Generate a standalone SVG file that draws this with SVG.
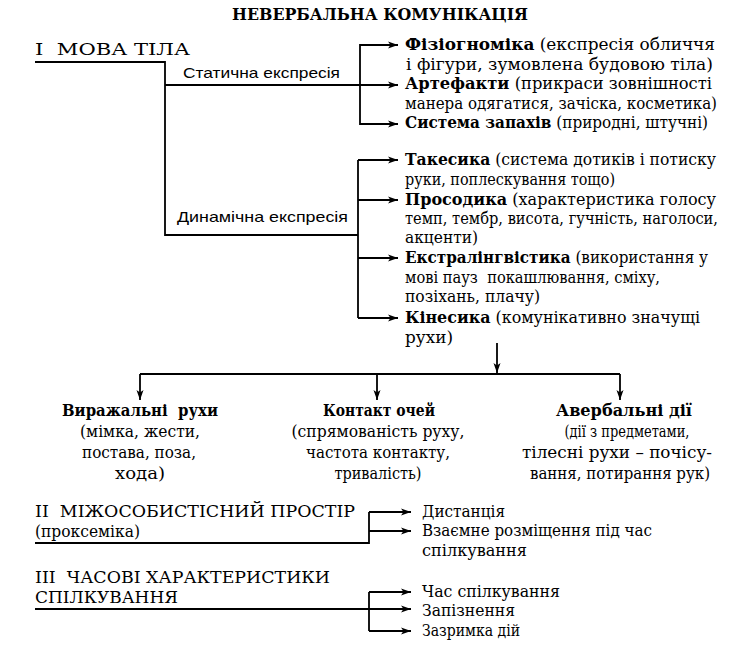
<svg xmlns="http://www.w3.org/2000/svg" width="748" height="648" viewBox="0 0 748 648">
<defs>
<style>
.t{font-family:"DejaVu Serif","Liberation Serif",serif;font-size:16px;fill:#000}
.b{font-weight:bold}
.h{font-family:"DejaVu Serif","Liberation Serif",serif;font-size:17px;fill:#000}
.s{font-family:"Liberation Sans",Arial,sans-serif;font-size:15px;fill:#000}
.c{text-anchor:middle}
.ln{stroke:#000;stroke-width:1.8;fill:none}
</style>
<marker id="ar" markerUnits="userSpaceOnUse" markerWidth="11" markerHeight="8" refX="10" refY="4" orient="auto">
<path d="M0,0.5 L10,4 L0,7.5 L2.5,4 Z" fill="#000"/>
</marker>
</defs>
<rect width="748" height="648" fill="#fff"/>

<g id="connectors">
<path class="ln" d="M35,62 H165 V235 H358"/>
<path class="ln" d="M165,85 H398" marker-end="url(#ar)"/>
<path class="ln" d="M398,45 H360 V124 H398" marker-end="url(#ar)"/>
<path class="ln" d="M360,45 H398" marker-end="url(#ar)"/>
<path class="ln" d="M358,160 V318"/>
<path class="ln" d="M358,160 H398" marker-end="url(#ar)"/>
<path class="ln" d="M358,200 H398" marker-end="url(#ar)"/>
<path class="ln" d="M358,258 H398" marker-end="url(#ar)"/>
<path class="ln" d="M358,318 H398" marker-end="url(#ar)"/>
<path class="ln" d="M497,343 V373" marker-end="url(#ar)"/>
<path class="ln" d="M140,374 H620"/>
<path class="ln" d="M140,374 V400" marker-end="url(#ar)"/>
<path class="ln" d="M377,374 V400" marker-end="url(#ar)"/>
<path class="ln" d="M620,374 V400" marker-end="url(#ar)"/>
<path class="ln" d="M35,543 H369 V512"/>
<path class="ln" d="M369,512 H411" marker-end="url(#ar)"/>
<path class="ln" d="M369,531 H411" marker-end="url(#ar)"/>
<path class="ln" d="M35,609 H411" marker-end="url(#ar)"/>
<path class="ln" d="M369,592 V631"/>
<path class="ln" d="M369,592 H411" marker-end="url(#ar)"/>
<path class="ln" d="M369,631 H411" marker-end="url(#ar)"/>
</g>

<g id="static-label"><text class="s" x="183" y="78" textLength="157" lengthAdjust="spacingAndGlyphs">Статична експресія</text></g>
<g id="dynamic-label"><text class="s" x="177" y="222" textLength="171" lengthAdjust="spacingAndGlyphs">Динамічна експресія</text></g>

<g id="title"><text class="h b" x="232" y="20" textLength="296" lengthAdjust="spacingAndGlyphs">НЕВЕРБАЛЬНА КОМУНІКАЦІЯ</text></g>

<g id="mova-tila">
<text class="h" x="35" y="55" xml:space="preserve" textLength="155" lengthAdjust="spacingAndGlyphs">І  МОВА ТІЛА</text>
</g>

<g id="fiziognomika">
<text class="t" x="405" y="50" textLength="310" lengthAdjust="spacingAndGlyphs"><tspan class="b">Фізіогноміка</tspan> (експресія обличчя</text>
<text class="t" x="406" y="70" textLength="307" lengthAdjust="spacingAndGlyphs">і фігури, зумовлена будовою тіла)</text>
</g>
<g id="artefakty">
<text class="t" x="405" y="89" textLength="307" lengthAdjust="spacingAndGlyphs"><tspan class="b">Артефакти</tspan> (прикраси зовнішності</text>
<text class="t" x="405" y="109" textLength="312" lengthAdjust="spacingAndGlyphs">манера одягатися, зачіска, косметика)</text>
</g>
<g id="zapakhy">
<text class="t" x="405" y="128" textLength="303" lengthAdjust="spacingAndGlyphs"><tspan class="b">Система запахів</tspan> (природні, штучні)</text>
</g>

<g id="takesyka">
<text class="t" x="405" y="165" textLength="311" lengthAdjust="spacingAndGlyphs"><tspan class="b">Такесика</tspan> (система дотиків і потиску</text>
<text class="t" x="405" y="185" textLength="210" lengthAdjust="spacingAndGlyphs">руки, поплескування тощо)</text>
</g>
<g id="prosodyka">
<text class="t" x="405" y="205" textLength="311" lengthAdjust="spacingAndGlyphs"><tspan class="b">Просодика</tspan> (характеристика голосу</text>
<text class="t" x="405" y="224" textLength="313" lengthAdjust="spacingAndGlyphs">темп, тембр, висота, гучність, наголоси,</text>
<text class="t" x="405" y="243" textLength="73" lengthAdjust="spacingAndGlyphs">акценти)</text>
</g>
<g id="ekstralingvistyka">
<text class="t" x="405" y="263" textLength="303" lengthAdjust="spacingAndGlyphs"><tspan class="b">Екстралінгвістика</tspan> (використання у</text>
<text class="t" x="405" y="283" xml:space="preserve" textLength="255" lengthAdjust="spacingAndGlyphs">мові пауз  покашлювання, сміху,</text>
<text class="t" x="405" y="302" textLength="135" lengthAdjust="spacingAndGlyphs">позіхань, плачу)</text>
</g>
<g id="kinesyka">
<text class="t" x="405" y="323" textLength="295" lengthAdjust="spacingAndGlyphs"><tspan class="b">Кінесика</tspan> (комунікативно значущі</text>
<text class="t" x="405" y="343" textLength="48" lengthAdjust="spacingAndGlyphs">рухи)</text>
</g>

<g id="vyrazhalni">
<text class="t b c" x="140" y="416" xml:space="preserve" textLength="156" lengthAdjust="spacingAndGlyphs">Виражальні  рухи</text>
<text class="t c" x="140" y="437" textLength="120" lengthAdjust="spacingAndGlyphs">(мімка, жести,</text>
<text class="t c" x="139" y="458" textLength="114" lengthAdjust="spacingAndGlyphs">постава, поза,</text>
<text class="t c" x="140" y="479" textLength="50" lengthAdjust="spacingAndGlyphs">хода)</text>
</g>
<g id="kontakt">
<text class="t b c" x="379" y="416" textLength="112" lengthAdjust="spacingAndGlyphs">Контакт очей</text>
<text class="t c" x="378" y="437" textLength="173" lengthAdjust="spacingAndGlyphs">(спрямованість руху,</text>
<text class="t c" x="378" y="458" textLength="144" lengthAdjust="spacingAndGlyphs">частота контакту,</text>
<text class="t c" x="378" y="479" textLength="87" lengthAdjust="spacingAndGlyphs">тривалість)</text>
</g>
<g id="averbalni">
<text class="t b c" x="624" y="416" textLength="136" lengthAdjust="spacingAndGlyphs">Авербальні дії</text>
<text class="t c" x="627" y="437" textLength="125" lengthAdjust="spacingAndGlyphs">(дії з предметами,</text>
<text class="t c" x="617" y="458" textLength="190" lengthAdjust="spacingAndGlyphs">тілесні рухи – почісу-</text>
<text class="t c" x="620" y="479" textLength="180" lengthAdjust="spacingAndGlyphs">вання, потирання рук)</text>
</g>

<g id="prostir">
<text class="h" x="35" y="517" xml:space="preserve" textLength="320" lengthAdjust="spacingAndGlyphs">II  МІЖОСОБИСТІСНИЙ ПРОСТІР</text>
<text class="t" x="35" y="537" textLength="105" lengthAdjust="spacingAndGlyphs">(проксеміка)</text>
</g>
<g id="dystantsiia"><text class="t" x="422" y="517" textLength="83" lengthAdjust="spacingAndGlyphs">Дистанція</text></g>
<g id="rozmishchennia">
<text class="t" x="422" y="536" textLength="230" lengthAdjust="spacingAndGlyphs">Взаємне розміщення під час</text>
<text class="t" x="422" y="556" textLength="105" lengthAdjust="spacingAndGlyphs">спілкування</text>
</g>

<g id="chasovi">
<text class="h" x="35" y="583" xml:space="preserve" textLength="295" lengthAdjust="spacingAndGlyphs">III  ЧАСОВІ ХАРАКТЕРИСТИКИ</text>
<text class="h" x="35" y="603" textLength="143" lengthAdjust="spacingAndGlyphs">СПІЛКУВАННЯ</text>
</g>
<g id="chas"><text class="t" x="422" y="597" textLength="138" lengthAdjust="spacingAndGlyphs">Час спілкування</text></g>
<g id="zapiznennia"><text class="t" x="422" y="616" textLength="93" lengthAdjust="spacingAndGlyphs">Запізнення</text></g>
<g id="zatrymka"><text class="t" x="422" y="636" textLength="98" lengthAdjust="spacingAndGlyphs">Зазримка дій</text></g>
</svg>
